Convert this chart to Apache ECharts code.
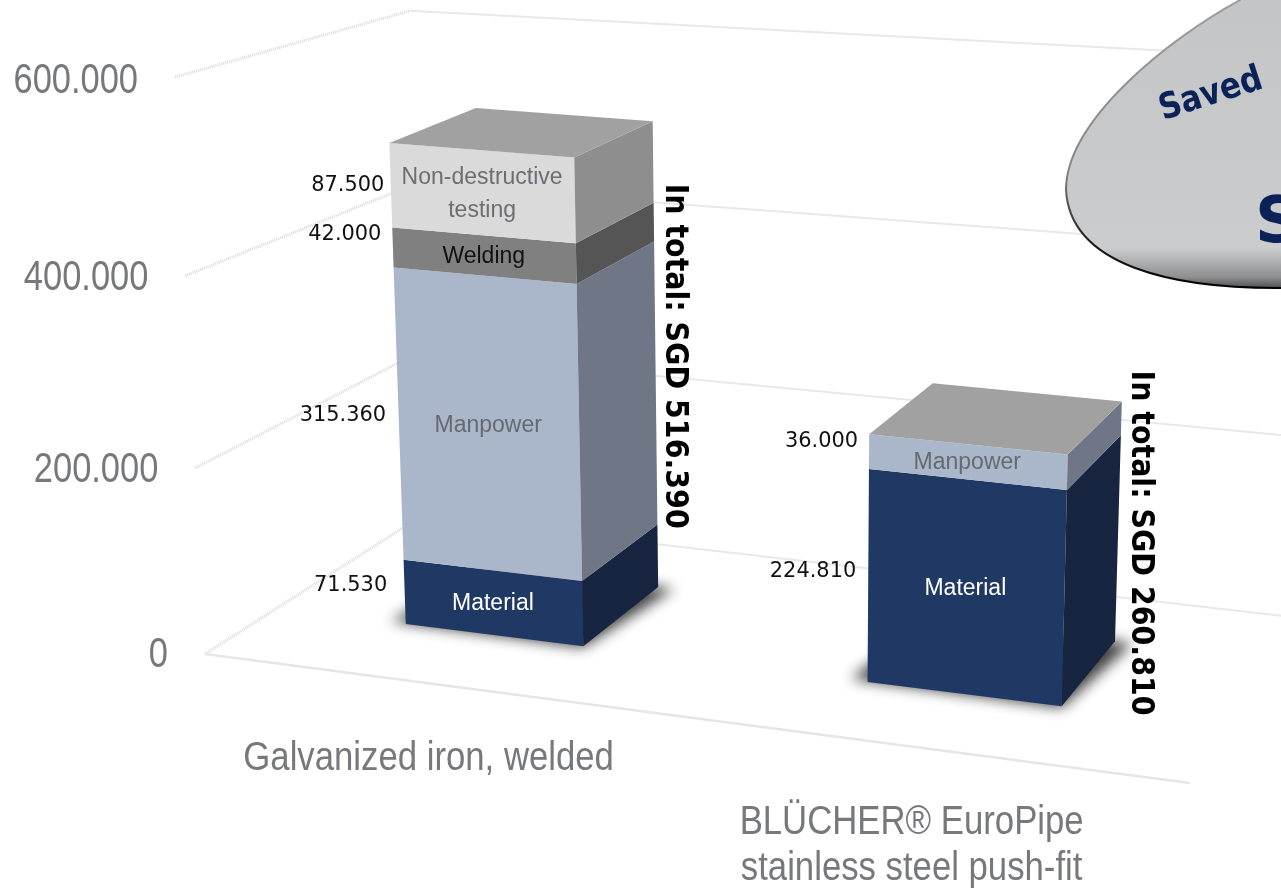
<!DOCTYPE html>
<html>
<head>
<meta charset="utf-8">
<title>Cost comparison</title>
<style>
html,body{margin:0;padding:0;background:#fff;}
#chart{width:1281px;height:893px;}
</style>
<script src="https://cdn.jsdelivr.net/npm/echarts@6/dist/echarts.min.js"></script>
</head>
<body>
<div id="chart"></div>
<script>
var categories = ['Galvanized iron, welded', 'BLÜCHER® EuroPipe\nstainless steel push-fit'];
var valueTicks = [0, 200000, 400000, 600000];
var material = [71530, 224810];
var manpower = [315360, 36000];
var welding = [42000, 0];
var testing = [87500, 0];
var totals = [516390, 260810];

// perspective of the picture, fitted by hand: X, V, Z all run 0..1
var PX = [205, 877.9, -38.5, 269.2];
var PY = [654, 58.5, -580.7, -70.3];
var PW = [1, -0.09, -0.0486, 0.129];
var Z_FRONT = 0.31, Z_BACK = 0.72;
var BAR_RATIO = 0.395;

var AXIS_GREY = '#77787b';
var SANS = '"Liberation Sans", Arial, sans-serif';
var DEJA = '"DejaVu Sans", sans-serif';

function project(X, V, Z){
	var w = PW[0] + PW[1]*X + PW[2]*V + PW[3]*Z;
	return [
		(PX[0] + PX[1]*X + PX[2]*V + PX[3]*Z) / w,
		(PY[0] + PY[1]*X + PY[2]*V + PY[3]*Z) / w
	];
}
// data -> hidden grid (library scales) -> perspective
// the bands sit a little left of an even split in the picture
function normX(px, params){ return (px - params.coordSys.x) / params.coordSys.width * 0.992 - 0.004; }
function normV(py, params){ return (params.coordSys.y + params.coordSys.height - py) / params.coordSys.height; }

function formatValue(v){
	return v === 0 ? '0' : String(v).replace(/(\d)(\d{3})$/, '$1.$2');
}

function poly(points, fill){
	return {type: 'polygon', shape: {points: points}, style: {fill: fill}};
}

function stackData(values, below){
	return values.map(function(v, i){
		var base = 0;
		below.forEach(function(b){ base += b[i]; });
		return [i, base, base + v];
	});
}

function barSeries(name, values, below, opt){
	return {
		type: 'custom',
		name: name,
		clip: false,
		silent: true,
		data: stackData(values, below),
		renderItem: function(params, api){
			var i = api.value(0), lo = api.value(1), hi = api.value(2);
			if(hi === lo){ return null; }
			var half = api.size([1, 0])[0] * BAR_RATIO / 2;
			var c = api.coord([i, lo]);
			var t = api.coord([i, hi]);
			var x0 = normX(c[0] - half, params), x1 = normX(c[0] + half, params), xm = normX(c[0], params);
			var v0 = normV(c[1], params), v1 = normV(t[1], params);
			var kids = [];
			if(opt.shadow){
				// shape is parked off the page, only its blurred shadow lands here
				kids.push({
					type: 'polygon',
					x: -3000,
					shape: {points: [
						project(x0 - 0.018, 0, Z_FRONT + 0.006), project(x1 + 0.001, 0, Z_FRONT - 0.006),
						project(x1 + 0.018, 0, Z_BACK), project(x0, 0, Z_BACK)
					]},
					style: {fill: '#555', shadowBlur: 14, shadowOffsetX: 3000, shadowColor: 'rgba(30,30,30,0.85)'}
				});
			}
			kids.push(poly([project(x0, v0, Z_FRONT), project(x1, v0, Z_FRONT), project(x1, v1, Z_FRONT), project(x0, v1, Z_FRONT)], opt.front));
			kids.push(poly([project(x1, v0, Z_FRONT), project(x1, v0, Z_BACK), project(x1, v1, Z_BACK), project(x1, v1, Z_FRONT)], opt.side));
			if(hi === totals[i]){
				kids.push(poly([project(x0, v1, Z_FRONT), project(x1, v1, Z_FRONT), project(x1, v1, Z_BACK), project(x0, v1, Z_BACK)], '#a1a1a1'));
			}
			// name inside the front face
			var mid = project(xm, (v0 + v1) / 2, Z_FRONT);
			kids.push({
				type: 'text', x: mid[0], y: mid[1] + 1,
				style: {text: name, align: 'center', verticalAlign: 'middle', fill: opt.text, fontFamily: SANS, fontSize: 23, lineHeight: 33}
			});
			// value left of the bar
			var edge = project(x0, (v0 + v1) / 2, Z_FRONT);
			kids.push({
				type: 'text', x: edge[0] + opt.nudgeX[i], y: edge[1] + opt.nudgeY[i], scaleX: 0.95,
				style: {text: formatValue(hi - lo), align: 'right', verticalAlign: 'middle', fill: '#111', fontFamily: DEJA, fontSize: 22}
			});
			return {type: 'group', children: kids};
		}
	};
}

var gridSeries = {
	type: 'custom',
	clip: false,
	silent: true,
	data: valueTicks.map(function(v){ return [0, v]; }),
	renderItem: function(params, api){
		var v = normV(api.coord([0, api.value(1)])[1], params);
		var a = project(0, v, 0), b = project(0, v, 1), c = project(1, v, 1);
		// back corner of the walls sits a bit lower than the fit towards the top
		b = [b[0] + 7 * v, b[1] + 8 * v];
		c = [c[0], c[1] - 3 * v];
		var kids = [
			{type: 'polyline', shape: {points: [a, b]}, style: {fill: 'none', stroke: '#dcdcdc', lineWidth: 3, lineDash: [1, 1]}},
			{type: 'polyline', shape: {points: [b, c]}, style: {fill: 'none', stroke: '#e8e8e8', lineWidth: 2}}
		];
		if(api.value(1) === 0){
			kids.push({type: 'polyline', shape: {points: [a, project(1, 0, 0)]}, style: {fill: 'none', stroke: '#e6e6e6', lineWidth: 2.5}});
		}
		kids.push({
			type: 'text', x: a[0] - 37, y: a[1] + 1 + v * 3, scaleX: 0.82,
			style: {text: formatValue(api.value(1)), align: 'right', verticalAlign: 'middle', fill: AXIS_GREY, fontFamily: SANS, fontSize: 42}
		});
		return {type: 'group', children: kids};
	}
};

var categoryNudge = [[0, 76], [-4, 99]];
var categorySeries = {
	type: 'custom',
	clip: false,
	silent: true,
	data: categories.map(function(c, i){ return [i, 0]; }),
	renderItem: function(params, api){
		var i = api.value(0);
		var p = project(normX(api.coord([i, 0])[0], params), 0, 0);
		return {
			type: 'text', x: p[0] + categoryNudge[i][0], y: p[1] + categoryNudge[i][1], scaleX: 0.868,
			style: {text: categories[i], align: 'center', verticalAlign: 'middle', fill: AXIS_GREY, fontFamily: SANS, fontSize: 40, lineHeight: 46}
		};
	}
};

var totalNudge = [[19, -2.5], [22, 20.5]];
var totalSeries = {
	type: 'custom',
	clip: false,
	silent: true,
	data: totals.map(function(t, i){ return [i, t]; }),
	renderItem: function(params, api){
		var i = api.value(0);
		var half = api.size([1, 0])[0] * BAR_RATIO / 2;
		var c = api.coord([i, 0]), t = api.coord([i, api.value(1)]);
		var p = project(normX(c[0] + half, params), (normV(c[1], params) + normV(t[1], params)) / 2, Z_BACK);
		return {
			type: 'text', x: p[0] + totalNudge[i][0], y: p[1] + totalNudge[i][1], rotation: -Math.PI / 2, scaleX: 0.89,
			style: {text: 'In total: SGD ' + formatValue(api.value(1)), align: 'center', verticalAlign: 'middle', fill: '#000', fontFamily: DEJA, fontWeight: 'bold', fontSize: 32}
		};
	}
};

// the callout cut off by the right edge of the picture
var calloutSeries = {
	type: 'custom',
	clip: false,
	silent: true,
	data: [[0, 0]],
	renderItem: function(){
		return {type: 'group', children: [
			{
				type: 'path',
				shape: {
					pathData: 'M1240 0 C1170 38 1066 120 1066 190 C1070 265 1170 290 1290 288 L1290 -2 L1240 -2 Z',
					x: 1066, y: -2, width: 224, height: 290, layout: 'cover'
				},
				style: {
					fill: new echarts.graphic.LinearGradient(0, 0, 0, 1, [
						{offset: 0, color: '#c4c5c7'},
						{offset: 0.86, color: '#cbccce'},
						{offset: 0.96, color: '#8d8e90'},
						{offset: 1, color: '#4a4a4a'}
					]),
					stroke: new echarts.graphic.LinearGradient(0, 0, 0, 1, [
						{offset: 0, color: '#a0a0a0'},
						{offset: 0.6, color: '#858585'},
						{offset: 0.82, color: '#222'},
						{offset: 1, color: '#000'}
					]),
					lineWidth: 2
				}
			},
			{
				type: 'text', x: 1211, y: 95, rotation: 0.31, scaleX: 0.86,
				style: {text: 'Saved', align: 'center', verticalAlign: 'middle', fill: '#0b2259', fontFamily: DEJA, fontWeight: 'bold', fontSize: 36}
			},
			{
				type: 'text', x: 1255, y: 225,
				style: {text: 'S', align: 'left', verticalAlign: 'middle', fill: '#0b2259', fontFamily: DEJA, fontWeight: 'bold', fontSize: 64}
			}
		]};
	}
};

var chart = echarts.init(document.getElementById('chart'), null, {renderer: 'canvas'});
chart.setOption({
	backgroundColor: '#fff',
	animation: false,
	grid: {left: 0, right: 0, top: 0, bottom: 0},
	xAxis: {type: 'category', data: categories, show: false},
	yAxis: {type: 'value', min: 0, max: 600000, show: false},
	series: [
		gridSeries,
		categorySeries,
		calloutSeries,
		barSeries('Material', material, [], {front: '#203864', side: '#172541', text: '#fff', shadow: true, nudgeX: [-17.5, -12], nudgeY: [-7, -5]}),
		barSeries('Manpower', manpower, [material], {front: '#aab7cb', side: '#6f7786', text: '#666a70', nudgeX: [-12.5, -11], nudgeY: [0, -10]}),
		barSeries('Welding', welding, [material, manpower], {front: '#808080', side: '#555555', text: '#111', nudgeX: [-11.5, 0], nudgeY: [-13, 0]}),
		barSeries('Non-destructive\ntesting', testing, [material, manpower, welding], {front: '#dadada', side: '#8e8e8e', text: '#6b6e72', nudgeX: [-6.5, 0], nudgeY: [0, 0]}),
		totalSeries
	]
});
</script>
</body>
</html>
